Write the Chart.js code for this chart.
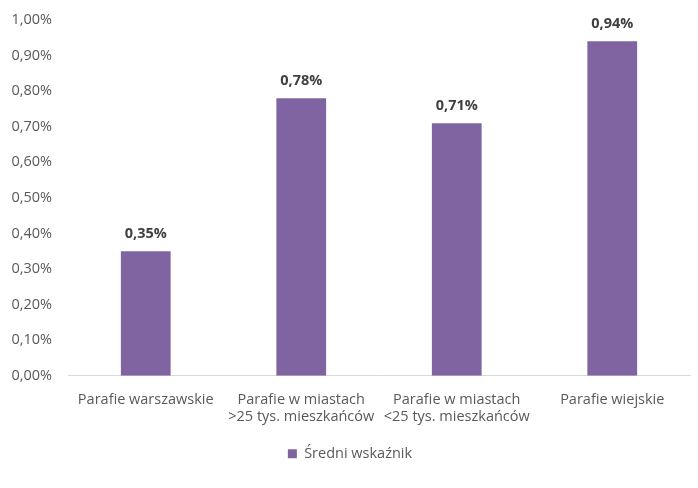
<!DOCTYPE html>
<html>
<head>
<meta charset="utf-8">
<script src="https://cdn.jsdelivr.net/npm/chart.js@4"></script>
<style>
html,body{margin:0;padding:0;background:#fff;}
#wrap{width:698px;height:488px;}
</style>
</head>
<body>
<div id="wrap"><canvas id="c" width="698" height="488"></canvas></div>
<script>
const categories = [
  'Parafie warszawskie',
  ['Parafie w miastach', '>25 tys. mieszkańców'],
  ['Parafie w miastach', '<25 tys. mieszkańców'],
  'Parafie wiejskie'
];
const seriesName = 'Średni wskaźnik';
const values = [0.35, 0.78, 0.71, 0.94];
const yMin = 0, yMax = 1.0, yStep = 0.1;

const FONT = '"Open Sans", "Liberation Sans", sans-serif';
const FS = 14.5;
const fmt = v => v.toFixed(2).replace('.', ',') + '%';

const labelPlugin = {
  id: 'barLabels',
  afterDatasetsDraw(chart) {
    const ctx = chart.ctx;
    const meta = chart.getDatasetMeta(0);
    ctx.save();
    ctx.font = 'bold 14.5px ' + FONT;
    ctx.fillStyle = '#404040';
    ctx.textAlign = 'center';
    ctx.textBaseline = 'middle';
    meta.data.forEach((el, i) => {
      ctx.fillText(fmt(values[i]), el.x, el.y - 17);
    });
    ctx.restore();
  }
};

new Chart(document.getElementById('c'), {
  type: 'bar',
  data: {
    labels: categories,
    datasets: [{
      label: seriesName,
      data: values,
      backgroundColor: '#8064A2',
      borderWidth: 0,
      barPercentage: 0.32,
      categoryPercentage: 1.0
    }]
  },
  options: {
    responsive: false,
    animation: false,
    devicePixelRatio: 1,
    layout: { padding: { top: 20, left: 10, right: 8, bottom: 17 } },
    plugins: {
      legend: {
        position: 'bottom',
        labels: {
          boxWidth: 9, boxHeight: 9,
          color: '#595959',
          font: { family: FONT, size: FS },
          padding: 8
        }
      },
      tooltip: { enabled: false }
    },
    scales: {
      x: {
        grid: { display: false },
        border: { display: true, color: '#d9d9d9', width: 1 },
        ticks: {
          color: '#595959',
          font: { family: FONT, size: FS },
          padding: 7,
          maxRotation: 0, autoSkip: false
        },
        afterFit(scale) { scale.height += 6; }
      },
      y: {
        min: yMin, max: yMax,
        grid: { display: false, drawTicks: false },
        border: { display: false },
        ticks: {
          stepSize: yStep,
          color: '#595959',
          font: { family: FONT, size: FS },
          padding: 16,
          callback: v => fmt(v)
        },
        afterFit(scale) {
          scale.width = 58;
          scale.paddingTop = 0;
          scale.paddingBottom = 0;
        }
      }
    }
  },
  plugins: [labelPlugin]
});
</script>
</body>
</html>
